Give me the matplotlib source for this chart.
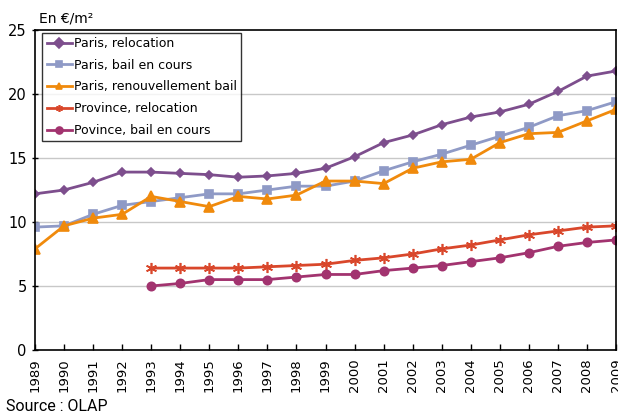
import matplotlib.pyplot as plt
import numpy as np

years = list(range(1989, 2010))
years_prov = list(range(1993, 2010))

paris_relocation = [12.2, 12.5, 13.1, 13.9, 13.9, 13.8, 13.7, 13.5, 13.6, 13.8, 14.2,
                    15.1, 16.2, 16.8, 17.6, 18.2, 18.6, 19.2, 20.2, 21.4, 21.8]
paris_bail = [9.6, 9.7, 10.6, 11.3, 11.6, 11.9, 12.2, 12.2, 12.5, 12.8, 12.8,
              13.2, 14.0, 14.7, 15.3, 16.0, 16.7, 17.4, 18.3, 18.7, 19.4]
paris_renouv = [7.9, 9.7, 10.3, 10.6, 12.0, 11.6, 11.2, 12.0, 11.8, 12.1, 13.2,
                13.2, 13.0, 14.2, 14.7, 14.9, 16.2, 16.9, 17.0, 17.9, 18.8]
province_relocation = [6.4, 6.4, 6.4, 6.4, 6.5, 6.6, 6.7,
                       7.0, 7.2, 7.5, 7.9, 8.2, 8.6, 9.0, 9.3, 9.6, 9.7]
province_bail = [5.0, 5.2, 5.5, 5.5, 5.5, 5.7, 5.9,
                 5.9, 6.2, 6.4, 6.6, 6.9, 7.2, 7.6, 8.1, 8.4, 8.6]

series = [
    ("Paris, relocation", years, paris_relocation, "#7D4E8D", "D", 4.5),
    ("Paris, bail en cours", years, paris_bail, "#8F9AC6", "s", 6),
    ("Paris, renouvellement bail", years, paris_renouv, "#F08A0C", "^", 6.5),
    ("Province, relocation", years_prov, province_relocation, "#D9472B", (6, 2, 0), 8),
    ("Povince, bail en cours", years_prov, province_bail, "#A2336F", "o", 6),
]

fig = plt.figure(figsize=(6.18, 4.17), dpi=100)
ax = fig.add_axes([0.0566, 0.1607, 0.9402, 0.7673])

for label, x, y, color, marker, ms in series:
    ax.plot(x, y, color=color, lw=2.0, marker=marker, markersize=ms,
            markeredgecolor=color, markerfacecolor=color, mew=1.2, label=label)

ax.set_xlim(1989, 2009)
ax.set_ylim(0, 25)
ax.set_yticks(np.arange(0, 26, 5))
ax.set_xticks(years)
ax.set_xticklabels([str(y) for y in years], rotation=90, fontsize=9.5)
ax.tick_params(axis="y", labelsize=10.5, direction="inout", length=5, width=1)
ax.tick_params(axis="x", direction="in", length=4, width=1, pad=6)
for v in [5, 10, 15, 20]:
    ax.axhline(v, color="#C8C8C8", lw=1, zorder=0)
for s in ax.spines.values():
    s.set_linewidth(1.2)
    s.set_color("black")

leg = ax.legend(loc="upper left", bbox_to_anchor=(0.008, 1.0), fontsize=9,
                frameon=True, fancybox=False, edgecolor="black",
                handlelength=2.0, handletextpad=0.2, labelspacing=0.7,
                borderpad=0.35, borderaxespad=0.2)
leg.get_frame().set_linewidth(1.0)
for h in leg.legend_handles:
    h.set_markersize(5)
    h.set_linewidth(2)

fig.text(0.063, 0.945, "En €/m²", fontsize=10)
fig.text(0.01, 0.015, "Source : OLAP", fontsize=11.5, fontfamily="Roboto", fontstretch="condensed")

fig.savefig("out.png", dpi=100)
